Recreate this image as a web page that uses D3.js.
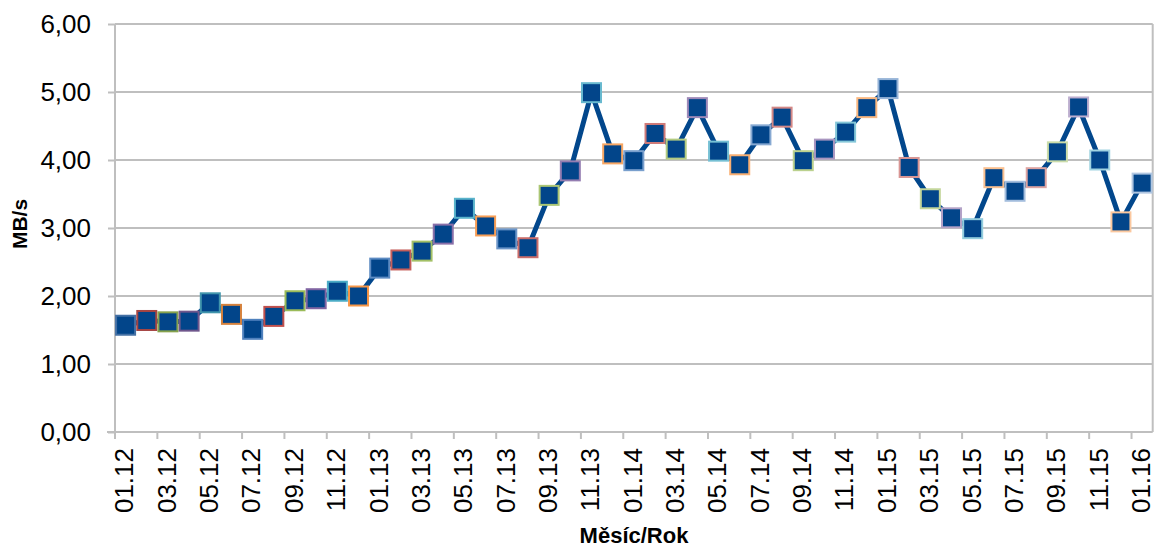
<!DOCTYPE html>
<html>
<head>
<meta charset="utf-8">
<script src="https://cdn.jsdelivr.net/npm/d3@7"></script>
<style>
  body { margin: 0; background: #fff; }
  text { font-family: "Liberation Sans", Arial, sans-serif; }
</style>
</head>
<body>
<svg width="1155" height="547"></svg>
<script>
// months 01.12 .. 01.16
const months = []
for (let y = 12; y <= 16; y++) {
  for (let m = 1; m <= 12; m++) {
    if (y === 16 && m > 1) break
    months.push(String(m).padStart(2, '0') + '.' + y)
  }
}

const speeds = [
  1.57, 1.64, 1.62, 1.63, 1.90, 1.73, 1.51, 1.70, 1.93, 1.96, 2.07, 2.00,
  2.41, 2.53, 2.66, 2.91, 3.29, 3.03, 2.84, 2.71, 3.48, 3.84, 4.99, 4.09,
  3.99, 4.39, 4.16, 4.77, 4.13, 3.93, 4.37, 4.63, 3.99, 4.16, 4.41, 4.77,
  5.05, 3.89, 3.43, 3.15, 2.99, 3.74, 3.54, 3.74, 4.12, 4.78, 4.00, 3.09,
  3.66
]

const yTicks = [0, 1, 2, 3, 4, 5, 6]

const accents = ['#4f81bd', '#c0504d', '#9bbb59', '#8064a2', '#4bacc6', '#f79646']

const data = months.map((m, i) => ({ month: m, value: speeds[i], i }))

const svg = d3.select('svg')
const margin = { top: 24, left: 115 }

const xScale = d3.scaleBand()
  .domain(months)
  .range([0, 1037.7])
  .padding(0)
const bw = xScale.bandwidth()

const yScale = d3.scaleLinear()
  .domain([0, 6])
  .range([408, 0])

const g = svg.append('g')
  .attr('transform', `translate(${margin.left}, ${margin.top})`)

const gridColor = '#bfbfbf'

// grid lines
g.append('g')
  .selectAll('line').data(yTicks.slice(1))
  .enter().append('line')
  .attr('x1', 0).attr('x2', xScale.range()[1])
  .attr('y1', d => yScale(d)).attr('y2', d => yScale(d))
  .attr('stroke', gridColor).attr('stroke-width', 2)

// right border
g.append('line')
  .attr('x1', xScale.range()[1]).attr('x2', xScale.range()[1])
  .attr('y1', 0).attr('y2', yScale(0))
  .attr('stroke', gridColor).attr('stroke-width', 2)

// y axis
const yAxis = d3.axisLeft(yScale)
  .tickValues(yTicks)
  .tickSize(7)
  .tickPadding(17)
  .tickFormat(d => d3.format('.2f')(d).replace('.', ','))

const yAxisG = g.append('g').call(yAxis)
yAxisG.selectAll('path, line').attr('stroke', gridColor).attr('stroke-width', 2)
yAxisG.select('.domain').attr('d', `M0,0V${yScale(0)}`)
yAxisG.selectAll('text')
  .attr('fill', '#000')
  .style('font-size', '26px')

// x axis
const xAxis = d3.axisBottom(xScale)
  .tickValues(months.filter((d, i) => i % 2 === 0))
  .tickSize(7)

const xAxisG = g.append('g').call(xAxis)
  .attr('transform', `translate(0, ${yScale(0)})`)
xAxisG.select('.domain').attr('d', `M-8,0H${xScale.range()[1]}`)
  .attr('stroke', gridColor).attr('stroke-width', 2)
xAxisG.selectAll('.tick line')
  .attr('x1', -bw / 2).attr('x2', -bw / 2)
  .attr('stroke', gridColor).attr('stroke-width', 2)
xAxisG.selectAll('text')
  .attr('fill', '#000')
  .style('font-size', '26px')
  .attr('transform', 'translate(0, 16) rotate(-90)')
  .attr('text-anchor', 'end')
  .attr('x', 0)
  .attr('y', 0)
  .attr('dy', '0.3em')

// line
const line = d3.line()
  .x(d => xScale(d.month) + bw / 2)
  .y(d => yScale(d.value))

g.append('path')
  .datum(data)
  .attr('d', line)
  .attr('fill', 'none')
  .attr('stroke', '#02478c')
  .attr('stroke-width', 5)
  .attr('stroke-linejoin', 'round')

// markers, border colour varies by point
const borderColor = i => {
  const base = accents[i % 6]
  const cycle = Math.floor(i / 6)
  if (cycle === 0) return d3.color(base).darker(0.4)
  return d3.interpolateRgb(base, '#fff')(Math.min(0.55, (cycle - 1) * 0.08))
}

const size = 19
g.selectAll('rect.marker').data(data)
  .enter().append('rect')
  .attr('class', 'marker')
  .attr('x', d => xScale(d.month) + bw / 2 - size / 2)
  .attr('y', d => yScale(d.value) - size / 2)
  .attr('width', size)
  .attr('height', size)
  .attr('fill', '#02458a')
  .attr('stroke', d => borderColor(d.i))
  .attr('stroke-width', 2)

// axis titles
svg.append('text')
  .attr('transform', 'translate(27, 224) rotate(-90)')
  .attr('text-anchor', 'middle')
  .style('font-size', '21px')
  .style('font-weight', 'bold')
  .text('MB/s')

svg.append('text')
  .attr('x', 634)
  .attr('y', 543)
  .attr('text-anchor', 'middle')
  .style('font-size', '22px')
  .style('font-weight', 'bold')
  .text('Měsíc/Rok')
</script>
</body>
</html>
